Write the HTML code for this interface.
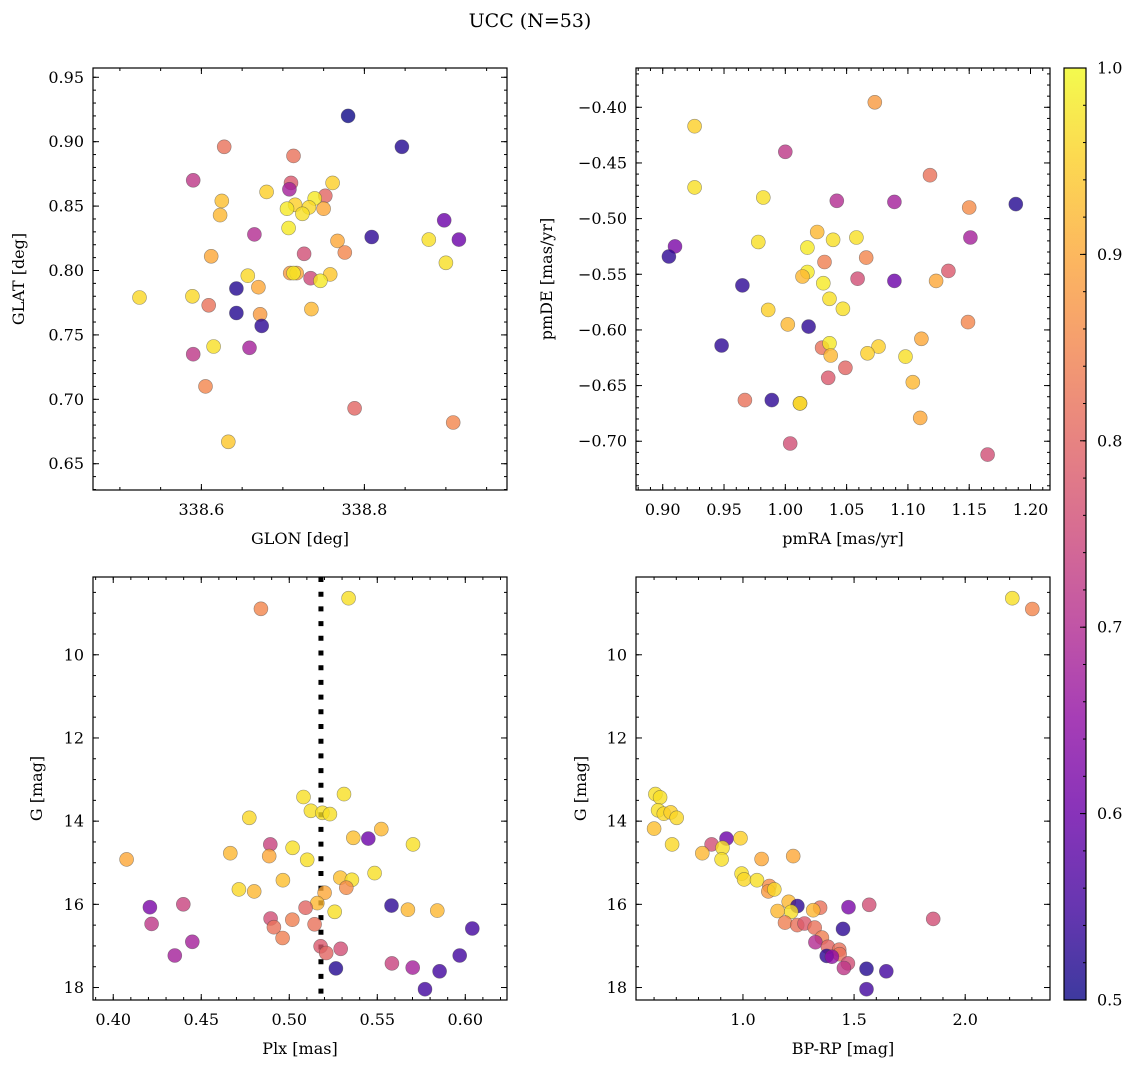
<!DOCTYPE html>
<html><head><meta charset="utf-8">
<style>
html,body{margin:0;padding:0;background:#fff;}
svg{display:block;font-family:"DejaVu Serif","Liberation Serif",serif;}
</style></head>
<body>
<svg id="fig" width="1136" height="1067" viewBox="0 0 1136 1067" xmlns="http://www.w3.org/2000/svg">
<text x="530" y="27" text-anchor="middle" font-size="19">UCC (N=53)</text>
</svg>
<script>
// ---------- data: panel 1 (GLON vs GLAT) ----------
const glon=[338.780,338.846,338.628,338.713,338.590,338.710,338.708,338.761,338.680,338.752,338.625,338.739,338.715,338.732,338.705,338.724,338.750,338.623,338.898,338.707,338.665,338.809,338.916,338.879,338.767,338.776,338.612,338.726,338.900,338.657,338.758,338.709,338.717,338.713,338.734,338.746,338.643,338.670,338.524,338.589,338.609,338.643,338.672,338.735,338.674,338.615,338.659,338.590,338.605,338.788,338.909,338.633];
const glat=[0.920,0.896,0.896,0.889,0.870,0.868,0.863,0.868,0.861,0.858,0.854,0.856,0.851,0.849,0.848,0.844,0.848,0.843,0.839,0.833,0.828,0.826,0.824,0.824,0.823,0.814,0.811,0.813,0.806,0.796,0.797,0.798,0.798,0.798,0.794,0.792,0.786,0.787,0.779,0.780,0.773,0.767,0.766,0.770,0.757,0.741,0.740,0.735,0.710,0.693,0.682,0.667];
const probP1=[0.5,0.52,0.82,0.82,0.72,0.78,0.68,0.95,0.95,0.8,0.93,0.98,0.95,0.96,0.98,0.97,0.9,0.92,0.6,0.98,0.7,0.53,0.6,0.97,0.9,0.85,0.9,0.76,0.97,0.96,0.94,0.88,0.9,0.98,0.75,0.98,0.52,0.9,0.96,0.96,0.82,0.52,0.88,0.92,0.53,0.97,0.68,0.72,0.85,0.8,0.85,0.94];
// ---------- data: panel 2 (pmRA vs pmDE) ----------
const pmra=[1.073,0.926,1.000,1.118,0.926,0.982,1.042,1.089,1.188,1.150,1.026,1.151,1.039,1.058,0.910,0.978,1.018,0.905,1.066,1.032,1.018,1.014,1.059,1.133,1.089,1.123,1.031,0.965,1.036,1.047,0.986,1.149,1.002,1.019,0.948,1.111,1.030,1.036,1.076,1.037,1.067,1.098,1.049,1.035,1.104,0.967,0.989,1.012,1.012,1.110,1.004,1.165];
const pmde=[-0.3955,-0.417,-0.440,-0.461,-0.472,-0.481,-0.484,-0.485,-0.487,-0.490,-0.512,-0.517,-0.519,-0.517,-0.525,-0.521,-0.526,-0.534,-0.535,-0.539,-0.548,-0.552,-0.554,-0.547,-0.556,-0.556,-0.558,-0.560,-0.572,-0.581,-0.582,-0.593,-0.595,-0.597,-0.614,-0.608,-0.616,-0.612,-0.615,-0.623,-0.621,-0.624,-0.634,-0.643,-0.647,-0.663,-0.663,-0.666,-0.666,-0.679,-0.702,-0.712];
const probP2=[0.88,0.95,0.72,0.82,0.97,0.97,0.7,0.68,0.52,0.86,0.92,0.68,0.97,0.97,0.62,0.97,0.98,0.53,0.85,0.84,0.98,0.92,0.76,0.78,0.6,0.9,0.98,0.53,0.97,0.97,0.95,0.85,0.92,0.53,0.53,0.9,0.82,0.98,0.95,0.92,0.95,0.97,0.8,0.78,0.92,0.82,0.53,0.88,0.97,0.9,0.76,0.76];
// ---------- data: panel 3 (Plx vs G) ----------
const plx=[0.4839,0.5337,0.5081,0.5311,0.5123,0.5188,0.5231,0.4773,0.5523,0.5364,0.5449,0.4892,0.5019,0.5703,0.4665,0.4886,0.5102,0.4076,0.5485,0.5290,0.5356,0.4964,0.5324,0.4714,0.4801,0.5201,0.5159,0.5093,0.5581,0.5674,0.5841,0.4208,0.4398,0.5258,0.4894,0.5017,0.4218,0.5144,0.4913,0.6040,0.4962,0.4449,0.5178,0.5292,0.5210,0.4350,0.5968,0.5583,0.5701,0.5265,0.5854,0.5771];
const gmagP3=[8.895,8.639,13.42,13.35,13.75,13.80,13.83,13.92,14.19,14.40,14.42,14.56,14.64,14.56,14.77,14.84,14.93,14.92,15.25,15.36,15.41,15.42,15.60,15.64,15.69,15.72,15.97,16.08,16.03,16.13,16.15,16.07,16.00,16.18,16.34,16.37,16.47,16.48,16.55,16.58,16.81,16.90,17.01,17.07,17.17,17.23,17.23,17.42,17.52,17.54,17.61,18.04];
const probP3=[0.85,0.97,0.97,0.97,0.97,0.97,0.97,0.96,0.92,0.93,0.6,0.74,0.97,0.97,0.92,0.9,0.97,0.9,0.97,0.93,0.97,0.93,0.86,0.96,0.92,0.9,0.92,0.8,0.53,0.92,0.92,0.62,0.74,0.97,0.76,0.84,0.72,0.82,0.82,0.55,0.84,0.68,0.78,0.76,0.8,0.68,0.55,0.74,0.68,0.52,0.55,0.55];
const plxMedian=0.518;
// ---------- data: panel 4 (BP-RP vs G) ----------
const bprp=[2.212,2.302,0.606,0.627,0.618,0.644,0.675,0.702,0.600,0.926,0.989,0.859,0.908,0.681,0.817,0.904,1.084,1.226,0.994,1.005,1.063,1.119,1.114,1.141,1.206,1.245,1.475,1.568,1.347,1.316,1.156,1.217,1.856,1.189,1.244,1.277,1.323,1.450,1.355,1.326,1.382,1.433,1.435,1.377,1.400,1.472,1.454,1.556,1.645,1.556];
const gmagP4=[8.64,8.90,13.35,13.43,13.74,13.82,13.79,13.92,14.18,14.42,14.41,14.56,14.64,14.56,14.77,14.92,14.91,14.84,15.26,15.40,15.42,15.56,15.69,15.64,15.94,16.04,16.07,16.01,16.08,16.14,16.16,16.18,16.35,16.44,16.50,16.46,16.56,16.59,16.80,16.91,17.02,17.09,17.20,17.24,17.26,17.42,17.53,17.55,17.61,18.04];
const probP4=[0.97,0.85,0.97,0.97,0.97,0.96,0.95,0.96,0.93,0.6,0.95,0.76,0.97,0.96,0.92,0.97,0.9,0.9,0.97,0.96,0.97,0.86,0.88,0.96,0.92,0.53,0.62,0.76,0.82,0.92,0.92,0.97,0.76,0.84,0.82,0.78,0.82,0.53,0.84,0.7,0.8,0.82,0.82,0.53,0.65,0.76,0.72,0.52,0.55,0.55];
// ---------- ticks ----------
const p1XTicks=[338.6,338.8];
const p1YTicks=[0.65,0.70,0.75,0.80,0.85,0.90,0.95];
const p2XTicks=[0.90,0.95,1.00,1.05,1.10,1.15,1.20];
const p2YTicks=[-0.70,-0.65,-0.60,-0.55,-0.50,-0.45,-0.40];
const p3XTicks=[0.40,0.45,0.50,0.55,0.60];
const gTicks=[10,12,14,16,18];
const p4XTicks=[1.0,1.5,2.0];
const cbTicks=[0.5,0.6,0.7,0.8,0.9,1.0];

const NS="http://www.w3.org/2000/svg";
const svg=document.getElementById('fig');
const plasma=["#0d0887","#41049d","#6a00a8","#8f0da4","#b12a90","#cc4778","#e16462","#f2844b","#fca636","#fcce25","#f0f921"];
function hex(h){return [parseInt(h.slice(1,3),16),parseInt(h.slice(3,5),16),parseInt(h.slice(5,7),16)];}
function cmap(p){
  let t=Math.max(0,Math.min(1,(p-0.5)/0.5))*10;
  let i=Math.min(9,Math.floor(t)),f=t-i;
  const a=hex(plasma[i]),b=hex(plasma[i+1]);
  return "rgb("+a.map((v,k)=>Math.round(v+(b[k]-v)*f)).join(",")+")";
}
function el(tag,attrs,parent){
  const e=document.createElementNS(NS,tag);
  for(const k in attrs)e.setAttribute(k,attrs[k]);
  (parent||svg).appendChild(e);return e;
}
function scale(d0,d1,r0,r1){return v=>r0+(v-d0)/(d1-d0)*(r1-r0);}
function fmtMinus(s){return s.replace('-','\u2212');}

function panel(o){
  const g=el('g',{});
  
  
  const sx=scale(o.xd[0],o.xd[1],o.L,o.L+o.W);
  const sy=o.inv?scale(o.yd[0],o.yd[1],o.T,o.T+o.H):scale(o.yd[0],o.yd[1],o.T+o.H,o.T);
  const clipId='clip-'+o.name;
  const cp=el('clipPath',{id:clipId},g);
  el('rect',{x:o.L,y:o.T,width:o.W,height:o.H},cp);
  const pts=el('g',{'clip-path':'url(#'+clipId+')'},g);
  
  
  if(o.vline!==undefined){
    const ln=el('line',{x1:sx(o.vline),x2:sx(o.vline),y1:o.T,y2:o.T+o.H,stroke:'#000','stroke-width':5,'stroke-dasharray':'5,9.7'},pts);
    
    
  }
  for(let i=0;i<o.xs.length;i++){
    const c=el('circle',{cx:sx(o.xs[i]).toFixed(1),cy:sy(o.ys[i]).toFixed(1),r:7,fill:cmap(o.ps[i]),'fill-opacity':0.8,stroke:'rgba(70,70,70,0.55)','stroke-width':0.6},pts);
    
    
  }
  const fr=el('rect',{x:o.L,y:o.T,width:o.W,height:o.H,fill:'none',stroke:'#000','stroke-width':1.2},g);
  
  
  const tk=el('g',{stroke:'#000','stroke-width':1},g);
  const n0=Math.ceil(o.xd[0]/o.xminor-1e-6),n1=Math.floor(o.xd[1]/o.xminor+1e-6);
  for(let n=n0;n<=n1;n++){const x=sx(n*o.xminor);
    el('line',{x1:x,x2:x,y1:o.T+o.H,y2:o.T+o.H-3},tk);el('line',{x1:x,x2:x,y1:o.T,y2:o.T+3},tk);}
  const ya=Math.min(o.yd[0],o.yd[1]),yb=Math.max(o.yd[0],o.yd[1]);
  const m0=Math.ceil(ya/o.yminor-1e-6),m1=Math.floor(yb/o.yminor+1e-6);
  for(let n=m0;n<=m1;n++){const y=sy(n*o.yminor);
    el('line',{x1:o.L,x2:o.L+3,y1:y,y2:y},tk);el('line',{x1:o.L+o.W,x2:o.L+o.W-3,y1:y,y2:y},tk);}
  o.xt.forEach(v=>{const x=sx(v);
    el('line',{x1:x,x2:x,y1:o.T+o.H,y2:o.T+o.H-6},tk);el('line',{x1:x,x2:x,y1:o.T,y2:o.T+6},tk);
    const t=el('text',{x:x,y:o.T+o.H+25,'text-anchor':'middle','font-size':16},g);
    t.textContent=fmtMinus(v.toFixed(o.xdec));
    
    
  });
  o.yt.forEach(v=>{const y=sy(v);
    el('line',{x1:o.L,x2:o.L+6,y1:y,y2:y},tk);el('line',{x1:o.L+o.W,x2:o.L+o.W-6,y1:y,y2:y},tk);
    const t=el('text',{x:o.L-9,y:y+5.5,'text-anchor':'end','font-size':16},g);
    t.textContent=fmtMinus(v.toFixed(o.ydec));
    
    
  });
  const xl=el('text',{x:o.L+o.W/2,y:o.T+o.H+54,'text-anchor':'middle','font-size':16},g);
  xl.textContent=o.xlabel;
  
  
  const yl=el('text',{x:0,y:0,'text-anchor':'middle','font-size':16,transform:'translate('+o.ylx+','+(o.T+o.H/2)+') rotate(-90)'},g);
  yl.textContent=o.ylabel;
  
  
}

panel({name:'glon-glat-panel',L:93,T:68,W:414,H:422,xd:[338.467,338.975],yd:[0.6296,0.9572],xs:glon,ys:glat,ps:probP1,
  xt:p1XTicks,yt:p1YTicks,xminor:0.05,yminor:0.01,xdec:1,ydec:2,xlabel:'GLON [deg]',ylabel:'GLAT [deg]',ylx:24});
panel({name:'pm-panel',L:636,T:68,W:414,H:422,xd:[0.8782,1.2159],yd:[-0.7438,-0.3647],xs:pmra,ys:pmde,ps:probP2,
  xt:p2XTicks,yt:p2YTicks,xminor:0.01,yminor:0.01,xdec:2,ydec:2,xlabel:'pmRA [mas/yr]',ylabel:'pmDE [mas/yr]',ylx:552});
panel({name:'plx-g-panel',L:93,T:577,W:414,H:423,xd:[0.3885,0.6237],yd:[8.13,18.30],inv:true,xs:plx,ys:gmagP3,ps:probP3,
  xt:p3XTicks,yt:gTicks,xminor:0.01,yminor:0.5,xdec:2,ydec:0,xlabel:'Plx [mas]',ylabel:'G [mag]',ylx:42,vline:plxMedian});
panel({name:'cmd-panel',L:636,T:577,W:414,H:423,xd:[0.5187,2.3816],yd:[8.13,18.30],inv:true,xs:bprp,ys:gmagP4,ps:probP4,
  xt:p4XTicks,yt:gTicks,xminor:0.1,yminor:0.5,xdec:1,ydec:0,xlabel:'BP-RP [mag]',ylabel:'G [mag]',ylx:586});

const cb=el('g',{});


const defs=el('defs',{},cb);
const lg=el('linearGradient',{id:'plasmaGrad',x1:0,y1:1,x2:0,y2:0},defs);
plasma.forEach((c,i)=>el('stop',{offset:(i/10),'stop-color':c,'stop-opacity':0.8},lg));
const CB={L:1064,T:68,W:22,H:932};
el('rect',{x:CB.L,y:CB.T,width:CB.W,height:CB.H,fill:'url(#plasmaGrad)'},cb);
el('rect',{x:CB.L,y:CB.T,width:CB.W,height:CB.H,fill:'none',stroke:'#000','stroke-width':1.2},cb);
const cs=scale(0.5,1.0,CB.T+CB.H,CB.T);
for(let n=25;n<=50;n++){const y=cs(n/50);
  el('line',{x1:CB.L+CB.W,x2:CB.L+CB.W-3,y1:y,y2:y,stroke:'#000'},cb);}
cbTicks.forEach(v=>{const y=cs(v);
  el('line',{x1:CB.L+CB.W,x2:CB.L+CB.W-6,y1:y,y2:y,stroke:'#000'},cb);
  const t=el('text',{x:CB.L+CB.W+11,y:y+5.5,'font-size':16},cb);
  t.textContent=v.toFixed(1);
  
  
});
</script>
</body></html>
